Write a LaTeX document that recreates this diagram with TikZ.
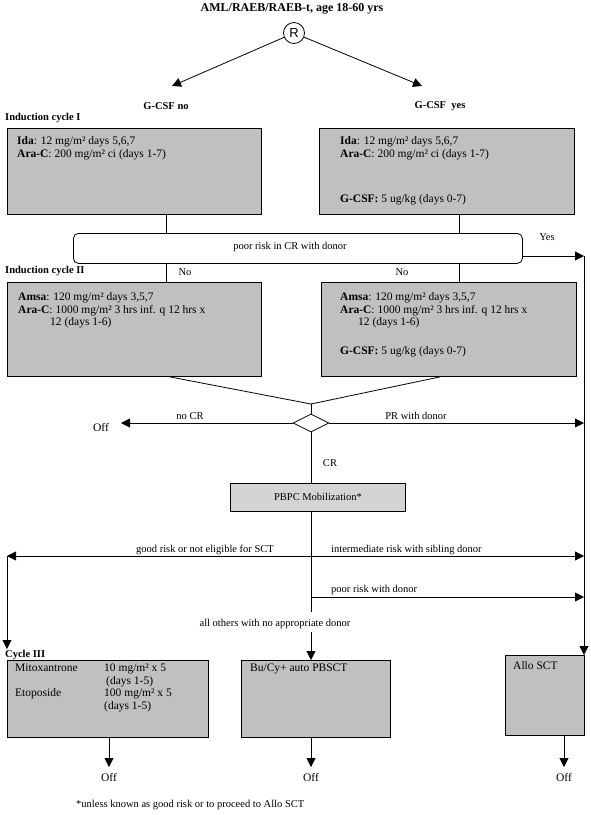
\documentclass[tikz,border=0pt]{standalone}
\usepackage{fontspec}
\setmainfont{Liberation Serif}
\newfontfamily\rfont{Liberation Sans}
\usetikzlibrary{arrows.meta,shapes.geometric}
\definecolor{boxgray}{HTML}{C0C0C0}
\definecolor{pbgray}{HTML}{D4D4D4}
\begin{document}
\begin{tikzpicture}[x=1pt,y=-1pt,
  box/.style={draw, fill=boxgray, line width=0.9pt, inner sep=0pt, anchor=north west},
  arr/.style={-{Triangle[length=9pt,width=9pt]}, line width=0.8pt},
  ln/.style={line width=0.8pt},
  lbl/.style={font=\fontsize{10.5}{12}\selectfont, inner sep=0pt},
  btxt/.style={font=\fontsize{11.5}{12}\selectfont, inner sep=0pt, anchor=base west},
  hd/.style={font=\fontsize{10.5}{12}\selectfont\bfseries, inner sep=0pt},
  offl/.style={font=\fontsize{11.5}{12}\selectfont, inner sep=0pt},
  ]
\useasboundingbox (0,0) rectangle (591,815);

% title and randomisation
\node[hd, font=\fontsize{12}{13}\selectfont\bfseries] (title) at (292,9) {AML/RAEB/RAEB-t, age 18-60 yrs};
\node[draw, circle, line width=0.8pt, minimum size=21pt, inner sep=0pt, font=\rfont\fontsize{13}{13}\selectfont] (R) at (294,33) {R};
\coordinate (gL) at (172,86);
\coordinate (gR) at (422,86);
\draw[arr] (R) -- (gL);
\draw[arr] (R) -- (gR);
\node[hd] (gno) at (166,106) {G-CSF no};
\node[hd] (gyes) at (440,106) {G-CSF\ \ yes};

% induction cycle I
\node[hd, anchor=west] (ind1) at (5,118) {Induction cycle I};
\node[box, minimum width=254pt, minimum height=86pt] (b1) at (7,128) {};
\node[box, minimum width=255pt, minimum height=86pt] (b2) at (319,128) {};
\node[btxt] (b1a) at (17,144) {\textbf{Ida}: 12 mg/m² days 5,6,7};
\node[btxt] (b1b) at (17,157) {\textbf{Ara-C}: 200 mg/m² ci (days 1-7)};
\node[btxt] (b2a) at (340,144) {\textbf{Ida}: 12 mg/m² days 5,6,7};
\node[btxt] (b2b) at (340,157) {\textbf{Ara-C}: 200 mg/m² ci (days 1-7)};
\node[btxt] (b2c) at (340,202) {\textbf{G-CSF:} 5 ug/kg (days 0-7)};

% decision poor risk in CR
\node[draw, rounded corners=5pt, line width=0.8pt, minimum width=449pt, minimum height=30pt, anchor=north west, inner sep=0pt] (rb) at (73,233) {};
\node[lbl] (rbt) at (290,247) {poor risk in CR with donor};
\coordinate (cL) at (166,0);
\coordinate (cR) at (459,0);
\draw[ln] (b1.south -| cL) -- (rb.north -| cL);
\draw[ln] (b2.south -| cR) -- (rb.north -| cR);
\coordinate (yesend) at (584,256);
\draw[arr] (rb.east |- yesend) -- (yesend);
\node[lbl] (yes) at (547,237) {Yes};

% induction cycle II
\node[hd, anchor=west] (ind2) at (5,271) {Induction cycle II};
\node[lbl] (noL) at (185,272) {No};
\node[lbl] (noR) at (402,272) {No};
\node[box, minimum width=254pt, minimum height=94pt] (b3) at (7,282) {};
\node[box, minimum width=255pt, minimum height=94pt] (b4) at (321,282) {};
\draw[ln] (rb.south -| cL) -- (b3.north -| cL);
\draw[ln] (rb.south -| cR) -- (b4.north -| cR);
\node[btxt] (b3a) at (18,300) {\textbf{Amsa}: 120 mg/m² days 3,5,7};
\node[btxt] (b3b) at (18,313) {\textbf{Ara-C}: 1000 mg/m² 3 hrs inf. q 12 hrs x};
\node[btxt] (b3c) at (50,325) {12 (days 1-6)};
\node[btxt] (b4a) at (340,300) {\textbf{Amsa}: 120 mg/m² days 3,5,7};
\node[btxt] (b4b) at (340,313) {\textbf{Ara-C}: 1000 mg/m² 3 hrs inf. q 12 hrs x};
\node[btxt] (b4c) at (358,325) {12 (days 1-6)};
\node[btxt] (b4d) at (340,354) {\textbf{G-CSF:} 5 ug/kg (days 0-7)};

% response decision
\coordinate (jn) at (311,404);
\coordinate (b3o) at (170,0);
\coordinate (b4o) at (440,0);
\draw[ln] (b3.south -| b3o) -- (jn);
\draw[ln] (b4.south -| b4o) -- (jn);
\node[draw, diamond, aspect=2, line width=0.8pt, minimum width=36pt, minimum height=18pt, inner sep=0pt] (dia) at (311,423) {};
\draw[ln] (jn) -- (dia.north);
\node[offl] (off1) at (101,427) {Off};
\coordinate (off1tip) at (121,423);
\draw[arr] (dia.west) -- (off1tip);
\node[lbl] (nocr) at (190,416) {no CR};
\draw[arr] (dia.east) -- (dia.east -| yesend);
\node[lbl] (prd) at (416,416) {PR with donor};
\node[lbl] (cr) at (330,463) {CR};

% PBPC mobilization
\node[draw, fill=pbgray, line width=0.8pt, minimum width=175pt, minimum height=28pt, anchor=north west, inner sep=0pt] (pb) at (230,483) {};
\node[lbl] (pbt) at (318,497) {PBPC Mobilization*};
\draw[ln] (dia.south) -- (pb.north -| dia.south);

% post-consolidation choices
\coordinate (j1) at (311,556);
\coordinate (j2) at (311,597);
\coordinate (j3) at (311,612);
\coordinate (j4) at (311,632);
\coordinate (gl2) at (7,556);
\draw[ln] (pb.south -| j1) -- (j3);
\draw[arr] (j1) -- (gl2);
\draw[arr] (j1) -- (j1 -| yesend);
\draw[arr] (j2) -- (j2 -| yesend);
\node[lbl] (good) at (205,550) {good risk or not eligible for SCT};
\node[lbl, anchor=west] (inter) at (331,550) {intermediate risk with sibling donor};
\node[lbl, anchor=west] (poor) at (331,590) {poor risk with donor};
\node[lbl] (others) at (275,624) {all others with no appropriate donor};

% final treatment boxes
\node[hd, anchor=west] (cyc3) at (5,655) {Cycle III};
\node[box, minimum width=201pt, minimum height=77pt] (c3) at (7,660) {};
\node[box, minimum width=149pt, minimum height=77pt] (bucy) at (241,660) {};
\node[box, minimum width=79pt, minimum height=80pt] (allo) at (505,655) {};
\coordinate (c3tip) at (7,649);
\draw[arr] (gl2) -- (c3tip);
\draw[arr] (j4) -- (bucy.north -| j4);
\draw[arr] (yesend) -- (yesend |- allo.north);

\node[btxt] (c3a) at (15,671) {Mitoxantrone};
\node[btxt] (c3b) at (104,671) {10 mg/m² x 5};
\node[btxt] (c3c) at (106,684) {(days 1-5)};
\node[btxt] (c3d) at (15,696) {Etoposide};
\node[btxt] (c3e) at (104,696) {100 mg/m² x 5};
\node[btxt] (c3f) at (104,709) {(days 1-5)};
\node[btxt] (bucyt) at (250,671) {Bu/Cy+ auto PBSCT};
\node[btxt] (allot) at (513,669) {Allo SCT};

% off arrows
\node[offl] (offA) at (109,777) {Off};
\node[offl] (offB) at (311,777) {Off};
\node[offl] (offC) at (564,777) {Off};
\coordinate (xa) at (109,767);
\coordinate (xb) at (311,767);
\coordinate (xc) at (564,767);
\draw[arr] (c3.south -| xa) -- (xa);
\draw[arr] (bucy.south -| xb) -- (xb);
\draw[arr] (allo.south -| xc) -- (xc);

\node[lbl, anchor=west] (foot) at (76,805) {*unless known as good risk or to proceed to Allo SCT};
\end{tikzpicture}
\end{document}
